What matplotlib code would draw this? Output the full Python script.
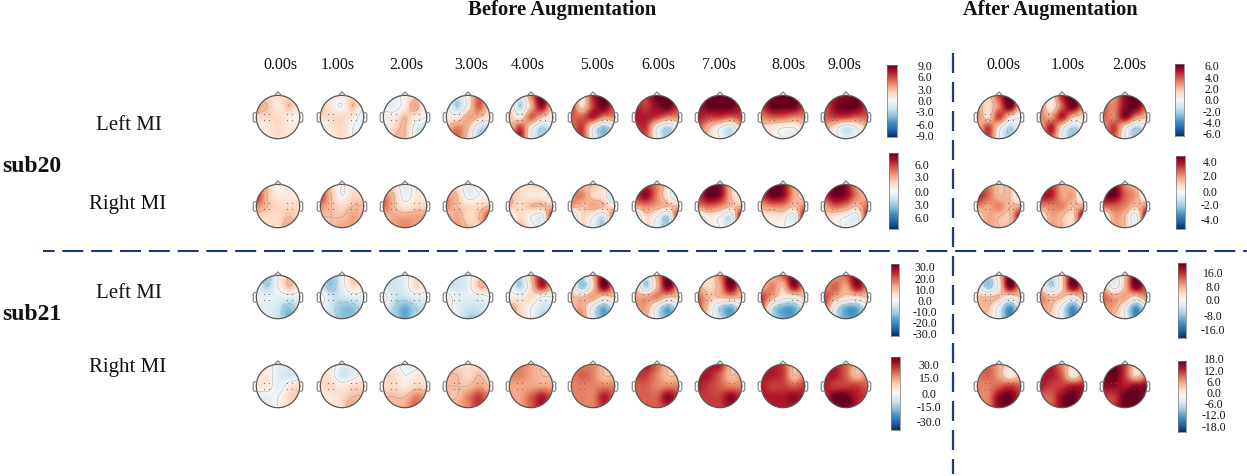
"""Topographic maps before and after augmentation for two subjects.
"""
import numpy as np
import matplotlib
matplotlib.use('Agg')
import matplotlib.pyplot as plt
from matplotlib.patches import Circle

plt.rcParams['font.family'] = ['Liberation Serif', 'DejaVu Serif']
plt.rcParams['lines.scale_dashes'] = False

W, H = 1247, 477

# colour level of each map on a 5x5 scalp grid, front row first, -10..10 of its colorbar
sub20_left = [
    [[2,2,2,2,1],[4,3,1,3,1],[2,2,2,1,0],[0,1,2,1,1],[1,1,2,1,1]],
    [[1,1,1,2,1],[3,1,0,3,0],[2,2,2,1,-1],[-1,1,2,0,-1],[0,1,2,0,-1]],
    [[-1,-1,1,2,-1],[-1,-1,1,4,-1],[1,1,3,1,0],[-1,2,3,-1,-2],[-1,3,3,-1,-2]],
    [[-1,-2,1,6,3],[1,-3,1,6,2],[1,1,4,3,1],[3,5,3,-2,-3],[4,6,2,-3,-2]],
    [[2,-1,5,10,5],[3,-3,3,9,2],[3,1,6,3,1],[2,7,1,-3,-1],[4,8,0,-3,-1]],
    [[3,1,8,10,8],[7,2,7,10,6],[6,6,8,5,5],[5,7,0,-4,-1],[6,7,0,-4,-1]],
    [[7,7,10,10,9],[8,7,9,10,7],[8,8,7,5,5],[7,7,0,-3,0],[6,6,0,-3,0]],
    [[8,9,10,10,9],[8,10,10,10,8],[8,7,7,6,7],[6,3,0,-2,3],[4,2,0,-2,1]],
    [[7,9,10,10,8],[7,10,10,10,7],[5,6,6,5,5],[2,1,0,0,2],[2,1,0,-1,1]],
    [[7,8,9,9,8],[6,9,10,10,7],[6,7,7,6,6],[4,1,-2,0,3],[3,1,-1,0,2]],
    [[2,2,7,10,6],[4,2,5,10,3],[5,2,7,2,0],[2,7,1,-3,0],[3,7,0,-3,-1]],
    [[3,1,8,10,8],[5,1,6,10,5],[5,4,8,3,2],[3,8,1,-3,-1],[4,6,0,-4,-2]],
    [[4,4,9,10,9],[6,5,9,10,6],[6,5,9,5,3],[4,7,1,-3,-1],[4,6,0,-3,-2]],
]
sub20_right = [
    [[4,3,0,1,1],[8,3,1,1,1],[5,3,2,2,2],[2,2,2,3,2],[2,2,2,4,2]],
    [[4,2,0,1,2],[7,3,0,2,2],[5,3,2,3,3],[3,3,3,4,3],[3,3,4,4,3]],
    [[2,1,-1,1,1],[5,3,-1,1,1],[6,3,1,2,2],[3,4,4,4,4],[3,4,5,4,4]],
    [[2,1,-1,1,1],[4,3,-1,0,0],[5,3,2,2,3],[2,4,2,3,7],[1,4,3,2,3]],
    [[2,2,2,2,1],[3,2,1,1,-1],[3,2,3,3,3],[-1,2,0,-1,8],[0,3,1,-1,2]],
    [[3,3,3,2,0],[5,5,2,1,-4],[4,3,4,3,1],[-4,2,0,-2,7],[0,2,-1,-3,3]],
    [[5,7,5,2,0],[7,9,5,1,-3],[4,5,4,3,3],[-3,2,0,-3,9],[0,2,-1,-3,4]],
    [[5,9,9,3,1],[7,10,9,3,0],[5,6,5,3,3],[-1,1,0,-2,10],[0,1,0,-1,3]],
    [[5,10,9,4,3],[7,10,9,4,2],[4,5,5,3,5],[1,1,1,-1,9],[1,1,0,0,3]],
    [[6,10,9,4,4],[7,10,9,5,3],[4,6,5,3,6],[2,1,0,-1,8],[1,1,-1,0,3]],
    [[4,5,3,3,1],[8,6,3,3,-2],[5,4,5,3,4],[1,4,3,3,9],[2,4,3,3,4]],
    [[6,7,4,3,1],[8,8,4,4,-2],[5,5,5,3,4],[0,4,3,2,10],[1,4,3,2,4]],
    [[7,9,5,3,1],[9,10,6,4,-1],[6,6,5,3,5],[-1,4,3,-1,10],[0,4,3,0,4]],
]
sub21_left = [
    [[-3,-4,0,3,2],[-1,-3,0,3,1],[-1,-1,-1,-1,-1],[-1,-1,-2,-4,-2],[0,-1,-2,-5,-2]],
    [[-3,-4,-1,3,2],[-2,-4,-1,2,1],[1,-2,-2,-1,-1],[0,-2,-4,-4,-2],[-1,-2,-4,-4,-2]],
    [[-2,-2,-1,2,2],[-2,-2,-1,2,1],[1,-2,-2,-1,-1],[-1,-3,-5,-3,-2],[-1,-3,-5,-3,-2]],
    [[-1,-2,-1,2,3],[-2,-2,-1,3,3],[1,-1,-1,-1,0],[1,-1,-2,-2,-1],[0,-1,-3,-3,-1]],
    [[0,-2,3,8,4],[0,-3,2,8,3],[1,1,2,0,0],[4,2,0,-2,-2],[5,2,0,-3,-2]],
    [[1,-2,3,10,6],[2,-4,2,10,4],[3,3,4,2,3],[3,4,-1,-5,-1],[4,5,-1,-5,-1]],
    [[1,-2,4,10,7],[3,-3,3,10,4],[4,4,5,3,3],[4,4,-1,-5,-1],[4,3,-1,-5,-1]],
    [[2,1,5,10,7],[3,2,4,10,4],[6,3,3,4,3],[6,2,-3,-5,-1],[3,1,-2,-5,0]],
    [[3,3,6,9,6],[3,5,3,9,4],[7,4,1,1,3],[7,-2,-5,-5,-1],[3,-2,-5,-5,-1]],
    [[3,4,6,9,6],[4,6,4,9,5],[7,4,2,2,3],[6,-1,-5,-5,-1],[2,-2,-5,-5,0]],
    [[-1,-3,2,10,5],[1,-4,1,10,4],[3,3,3,1,3],[3,3,-1,-6,-1],[2,2,-1,-6,-1]],
    [[1,-2,2,10,7],[2,-3,2,10,5],[5,3,3,1,4],[4,3,-1,-6,-1],[3,2,-1,-6,-1]],
    [[1,-1,3,10,8],[3,-1,3,10,6],[6,4,4,2,5],[4,4,0,-6,-1],[3,2,0,-6,-1]],
]
sub21_right = [
    [[1,1,-1,-1,-1],[1,1,-1,-2,-1],[1,1,-1,1,2],[-1,-1,0,2,3],[-1,-1,0,2,2]],
    [[2,1,-1,-1,1],[2,1,-2,-1,1],[2,2,1,2,2],[1,1,2,3,3],[1,1,2,4,2]],
    [[2,1,-1,-1,1],[2,2,0,1,1],[2,2,1,2,2],[3,3,3,5,4],[3,3,4,6,3]],
    [[3,2,2,2,2],[3,3,2,3,2],[3,3,3,4,3],[3,3,5,7,5],[3,4,5,7,4]],
    [[4,5,4,3,3],[5,5,4,3,3],[4,4,4,4,4],[4,4,6,8,6],[4,4,6,8,5]],
    [[5,5,5,3,3],[5,6,5,3,3],[5,5,5,5,5],[5,5,5,8,6],[5,5,5,7,5]],
    [[6,8,6,3,3],[7,7,5,3,3],[6,6,5,5,5],[6,6,6,9,7],[5,6,6,7,5]],
    [[7,8,8,3,3],[8,8,6,3,4],[8,7,6,5,5],[7,7,7,9,7],[6,7,7,8,6]],
    [[7,8,7,3,4],[8,8,7,3,5],[8,7,7,6,7],[8,8,8,9,8],[7,8,8,8,7]],
    [[8,8,6,3,4],[8,8,6,3,5],[8,7,7,7,6],[7,10,10,8,7],[7,9,10,8,6]],
    [[5,6,4,2,3],[5,6,4,1,3],[5,5,6,7,6],[5,5,9,10,7],[5,5,9,9,6]],
    [[7,8,5,2,4],[8,8,6,1,4],[8,7,7,8,8],[6,6,9,10,8],[6,6,9,10,7]],
    [[9,10,7,2,5],[9,10,7,2,5],[9,9,8,9,9],[7,7,10,10,9],[6,7,10,10,8]],
]

time_labels = ['0.00s', '1.00s', '2.00s', '3.00s', '4.00s', '5.00s', '6.00s',
               '7.00s', '8.00s', '9.00s', '0.00s', '1.00s', '2.00s']
cbar_labels = [
    ['9.0', '6.0', '3.0', '0.0', '-3.0', '-6.0', '-9.0'],
    ['6.0', '3.0', '0.0', '3.0', '6.0'],
    ['30.0', '20.0', '10.0', '0.0', '-10.0', '-20.0', '-30.0'],
    ['30.0', '15.0', '0.0', '-15.0', '-30.0'],
    ['6.0', '4.0', '2.0', '0.0', '-2.0', '-4.0', '-6.0'],
    ['4.0', '2.0', '0.0', '-2.0', '-4.0'],
    ['16.0', '8.0', '0.0', '-8.0', '-16.0'],
    ['18.0', '12.0', '6.0', '0.0', '-6.0', '-12.0', '-18.0'],
]

# layout, pixels
head_x = [278, 342, 405, 468, 531, 593, 657, 720, 783, 846, 999, 1062, 1125]
head_y = [118, 207, 298, 387]
time_x = [280, 338, 406, 471, 528, 597, 658, 719, 788, 845, 1003, 1068, 1129]
cbar_box = [(887, 66, 897, 138), (889, 154, 898, 230), (891, 265, 899, 337),
            (891, 358, 900, 431), (1175, 65, 1184, 137), (1176, 157, 1185, 230),
            (1178, 264, 1186, 339), (1178, 362, 1186, 433)]
cbar_text_x = [925, 922, 925, 929, 1212, 1210, 1213, 1214]
cbar_text_y = [
    [67, 78, 91, 102, 113, 126, 137],
    [166, 178, 193, 206, 219],
    [268, 280, 291, 302, 313, 324, 335],
    [366, 379, 395, 408, 423],
    [67, 79, 90, 101, 113, 124, 135],
    [163, 177, 193, 206, 221],
    [274, 288, 301, 317, 331],
    [360, 372, 383, 394, 405, 416, 428],
]
sensor_x = [-0.66, -0.4, 0.4, 0.66]
sensor_y = [0.16, -0.12]
navy = '#1c3a7c'


def upsample(grid, n=121):
    """Catmull-Rom resampling of a square grid to n x n points.
    """
    grid = np.asarray(grid, dtype=float)
    m = grid.shape[0]
    pos = np.linspace(0, m - 1, n)
    weights = np.zeros((n, m))
    for i, p in enumerate(pos):
        k = min(int(p), m - 2)
        t = p - k
        coef = [-0.5*t + t**2 - 0.5*t**3,
                1 - 2.5*t**2 + 1.5*t**3,
                0.5*t + 2*t**2 - 1.5*t**3,
                -0.5*t**2 + 0.5*t**3]
        for j, c in zip(range(k - 1, k + 3), coef):
            weights[i, min(max(j, 0), m - 1)] += c
    return weights @ grid @ weights.T


def px_axes(fig, x0, y0, x1, y1):
    return fig.add_axes([x0 / W, 1 - y1 / H, (x1 - x0) / W, (y1 - y0) / H])


def draw_head(fig, cx, cy, grid, radius=21.7):
    box = 31.0
    ax = px_axes(fig, cx - box, cy - box, cx + box, cy + box)
    lim = box / radius
    ax.set_xlim(-lim, lim)
    ax.set_ylim(-lim, lim)
    ax.axis('off')

    fine = upsample(grid)
    xs = np.linspace(-1, 1, fine.shape[0])
    outline = Circle((0, 0), 1, transform=ax.transData)
    im = ax.imshow(fine, extent=(-1, 1, -1, 1), origin='upper', cmap='RdBu_r',
                   vmin=-10, vmax=10, interpolation='bilinear')
    im.set_clip_path(outline)
    cs = ax.contour(xs, xs[::-1], fine, levels=[-3, 0, 3], colors='#808080',
                    linewidths=0.5, alpha=0.45)
    cs.set_clip_path(outline)

    sx, sy = np.meshgrid(sensor_x, sensor_y)
    ax.plot(sx.ravel(), sy.ravel(), ls='', marker='o', ms=0.8, color='#666666',
            mew=0)
    # head outline, nose and ears
    theta = np.linspace(0, 2 * np.pi, 200)
    ax.plot(np.cos(theta), np.sin(theta), color='#555555', lw=0.9)
    ax.plot([-0.17, 0, 0.17], [0.985, 1.16, 0.985], color='#777777', lw=0.8)
    for side in (-1, 1):
        ax.plot([side * 1.0, side * 1.09, side * 1.14, side * 1.14, side * 1.09, side * 1.0],
                [0.2, 0.2, 0.14, -0.18, -0.24, -0.24], color='#888888', lw=0.9)


def draw_cbar(fig, box, labels, text_x, text_y):
    ax = px_axes(fig, *box)
    ax.imshow(np.linspace(1, -1, 256)[:, None], aspect='auto', cmap='RdBu_r',
              vmin=-1, vmax=1)
    ax.set_xticks([])
    ax.set_yticks([])
    for spine in ax.spines.values():
        spine.set_color('#777777')
        spine.set_linewidth(0.5)
    for label, y in zip(labels, text_y):
        fig.text(text_x / W, 1 - y / H, label, fontsize=8.5, ha='center',
                 va='center', color='#111111')


def main():
    fig = plt.figure(figsize=(W / 100, H / 100), dpi=100)

    for cy, maps in zip(head_y, [sub20_left, sub20_right, sub21_left, sub21_right]):
        for cx, grid in zip(head_x, maps):
            draw_head(fig, cx, cy, grid)

    for box, labels, tx, ty in zip(cbar_box, cbar_labels, cbar_text_x, cbar_text_y):
        draw_cbar(fig, box, labels, tx, ty)

    def text(x, y, s, **kw):
        fig.text(x / W, 1 - y / H, s, ha=kw.pop('ha', 'center'), va='center',
                 color='#111111', **kw)

    for x, s in zip(time_x, time_labels):
        text(x, 65, s, fontsize=11.4)
    text(562.5, 10, 'Before Augmentation', fontsize=14.9, fontweight='bold')
    text(1050.5, 10, 'After Augmentation', fontsize=14.7, fontweight='bold')
    text(129, 126, 'Left MI', fontsize=15)
    text(128, 205, 'Right MI', fontsize=15)
    text(129, 294, 'Left MI', fontsize=15)
    text(128, 368, 'Right MI', fontsize=15)
    text(2, 167, 'sub20', fontsize=17, fontweight='bold', ha='left')
    text(2, 315, 'sub21', fontsize=17, fontweight='bold', ha='left')

    # dashed separators, full-figure axes in pixels
    over = fig.add_axes([0, 0, 1, 1], facecolor='none')
    over.set_xlim(0, W)
    over.set_ylim(H, 0)
    over.axis('off')
    dash = (21 * 0.72, 7.8 * 0.72)
    over.plot([42.7, W], [252, 252], color=navy, lw=1.5,
              linestyle=(9.4 * 0.72, dash))
    over.plot([953, 953], [54, 475], color=navy, lw=1.6,
              linestyle=(0, (20 * 0.72, 9 * 0.72)))

    fig.savefig('out.png', dpi=100)


main()
